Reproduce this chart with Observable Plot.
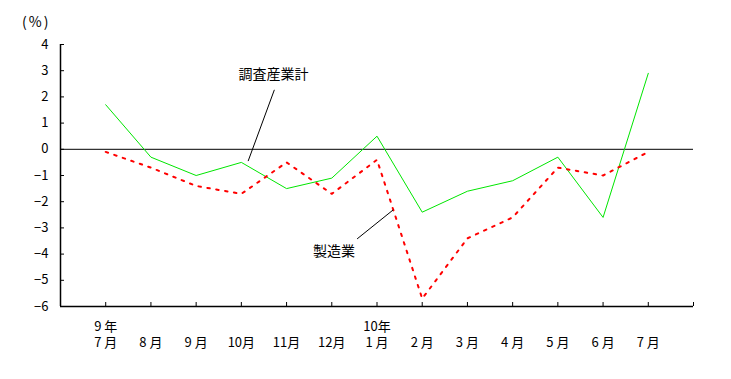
<!DOCTYPE html>
<html>
<head>
<meta charset="utf-8">
<script src="https://cdn.jsdelivr.net/npm/d3@7"></script>
<script src="https://cdn.jsdelivr.net/npm/@observablehq/plot@0.6"></script>
<style>
  html, body { margin: 0; padding: 0; background: #fff; }
  #chart { position: relative; width: 731px; height: 379px; }
  #unit { position: absolute; left: 22px; top: 11px; font: 14px "Noto Sans CJK JP", sans-serif; letter-spacing: 2px; color: #000; }
</style>
</head>
<body>
<div id="chart"><div id="unit">(%)</div></div>
<script>
// Data
const months = ["7 月", "8 月", "9 月", "10月", "11月", "12月", "1 月", "2 月", "3 月", "4 月", "5 月", "6 月", "7 月"];
const years = ["9 年", "", "", "", "", "", "10年", "", "", "", "", "", ""];
const totalIndustry = [1.7, -0.3, -1.0, -0.5, -1.5, -1.1, 0.5, -2.4, -1.6, -1.2, -0.3, -2.6, 2.9];   // 調査産業計
const manufacturing = [-0.1, -0.7, -1.4, -1.7, -0.5, -1.7, -0.4, -5.7, -3.4, -2.6, -0.7, -1.0, -0.1]; // 製造業
const yTicks = [4, 3, 2, 1, 0, -1, -2, -3, -4, -5, -6];
const xTicks = d3.range(0, 14);

// Annotations (data units)
const annoLabels = [
  {text: "調査産業計", x: 3.71, y: 2.86},
  {text: "製造業", x: 5.05, y: -3.89}
];
const annoLeaders = [
  {x1: 3.73, y1: 2.27, x2: 3.15, y2: -0.45},
  {x1: 5.56, y1: -3.42, x2: 6.36, y2: -2.31}
];

const idx = (d, i) => i;
const font = "'Noto Sans CJK JP', sans-serif";
const xLabel = (d, i) => `${years[i] || " "}\n${months[i]}`;

const plot = Plot.plot({
  width: 731,
  height: 379,
  marginLeft: 60,
  marginRight: 38,
  marginTop: 44,
  marginBottom: 73,
  style: {fontFamily: font, fontSize: "13px", color: "#000", background: "transparent"},
  x: {domain: [-1, 13], axis: null},
  y: {domain: [-6, 4], axis: null},
  marks: [
    // y axis ticks (inward) and labels
    Plot.axisY({ticks: yTicks, tickSize: 4, dx: 4, tickFormat: () => "", label: null, stroke: "#000"}),
    Plot.axisY({ticks: yTicks, tickSize: 0, tickPadding: 12, label: null, fontSize: 13, fill: "#000"}),
    // x axis ticks (upward)
    Plot.axisX({ticks: xTicks, tickSize: 4, dy: -4, tickFormat: () => "", label: null, stroke: "#000"}),
    // axis lines
    Plot.ruleX([-1], {stroke: "#000", strokeWidth: 1.5}),
    Plot.ruleY([-6], {stroke: "#000", strokeWidth: 1.5}),
    Plot.ruleY([0], {stroke: "#000", strokeWidth: 1}),
    // x labels (year over month)
    Plot.text(months, {x: idx, frameAnchor: "bottom", lineAnchor: "top", dy: 13, lineHeight: 1.23, text: xLabel, fontSize: 13, fill: "#000"}),
    // series
    Plot.line(totalIndustry, {x: idx, y: d => d, stroke: "#00e600", strokeWidth: 1}),
    Plot.line(manufacturing, {x: idx, y: d => d, stroke: "#ff0000", strokeWidth: 2, strokeDasharray: "2.5,6.5"}),
    // annotations
    Plot.link(annoLeaders, {x1: "x1", y1: "y1", x2: "x2", y2: "y2", stroke: "#000", strokeWidth: 1}),
    Plot.text(annoLabels, {x: "x", y: "y", text: "text", fontSize: 14, fill: "#000"})
  ]
});
document.getElementById("chart").appendChild(plot);
</script>
</body>
</html>
